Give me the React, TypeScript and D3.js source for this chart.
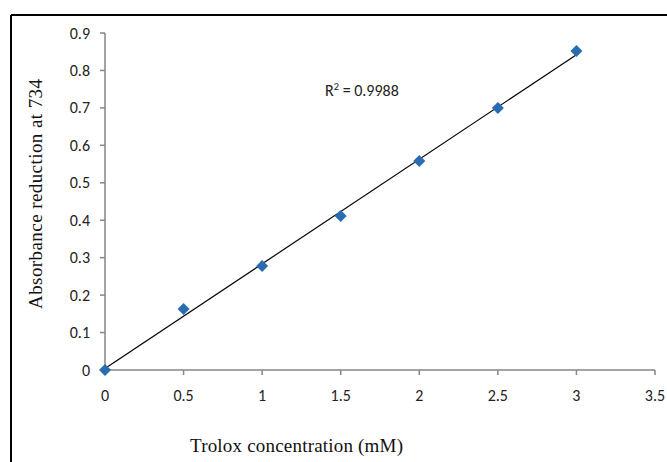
import React from "react";
import * as d3 from "d3";

const concentrations = [0, 0.5, 1, 1.5, 2, 2.5, 3];
const absorbance = [0, 0.163, 0.278, 0.411, 0.558, 0.7, 0.852];
const xTicks = [0, 0.5, 1, 1.5, 2, 2.5, 3, 3.5];
const yTicks = [0, 0.1, 0.2, 0.3, 0.4, 0.5, 0.6, 0.7, 0.8, 0.9];
const r2Label = "0.9988";
const xTitle = "Trolox concentration (mM)";
const yTitle = "Absorbance reduction at 734";

export default function App() {
  const W = 667, H = 462;
  const x = d3.scaleLinear().domain([0, 3.5]).range([105, 655]);
  const y = d3.scaleLinear().domain([0, 0.9]).range([370, 33]);
  const n = concentrations.length;
  const mx = d3.mean(concentrations)!;
  const my = d3.mean(absorbance)!;
  let sxy = 0, sxx = 0;
  for (let i = 0; i < n; i++) {
    sxy += (concentrations[i] - mx) * (absorbance[i] - my);
    sxx += (concentrations[i] - mx) ** 2;
  }
  const slope = sxy / sxx;
  const icpt = my - slope * mx;
  const x0 = d3.min(concentrations)!, x1 = d3.max(concentrations)!;
  const line = d3.line<number>().x((v) => x(v)).y((v) => y(icpt + slope * v));
  const diamond = d3.symbol().type(d3.symbolDiamond2).size(92)()!;
  const tickFont = "Carlito, Lato, 'Open Sans', sans-serif";
  const serif = "'Liberation Serif', 'Times New Roman', serif";
  const axisColor = "#868686";
  return (
    <svg width={W} height={H} style={{ position: "absolute", left: 0, top: 0 }}>
      <rect width={W} height={H} fill="#fff" />
      <line x1={11} y1={15} x2={W} y2={15} stroke="#000" strokeWidth={2} />
      <line x1={11} y1={15} x2={11} y2={H} stroke="#000" strokeWidth={2} />
      {/* y axis */}
      <line x1={x(0)} y1={y(0)} x2={x(0)} y2={y(0.9)} stroke={axisColor} strokeWidth={1.5} />
      {yTicks.map((t) => (
        <g key={"y" + t}>
          <line x1={x(0) - 5} x2={x(0)} y1={y(t)} y2={y(t)} stroke={axisColor} strokeWidth={1.5} />
          <text x={x(0) - 15} y={y(t)} dy="0.35em" textAnchor="end" fontFamily={tickFont} fontSize={16} fill="#222">
            {t === 0 ? "0" : d3.format(".1f")(t)}
          </text>
        </g>
      ))}
      {/* x axis */}
      <line x1={x(0)} y1={y(0)} x2={x(3.5)} y2={y(0)} stroke={axisColor} strokeWidth={1.5} />
      {xTicks.map((t) => (
        <g key={"x" + t}>
          <line x1={x(t)} x2={x(t)} y1={y(0)} y2={y(0) + 5} stroke={axisColor} strokeWidth={1.5} />
          <text x={x(t)} y={y(0) + 25} dy="0.35em" textAnchor="middle" fontFamily={tickFont} fontSize={16} fill="#222">
            {String(t)}
          </text>
        </g>
      ))}
      {/* trendline */}
      <path d={line([x0, x1])!} stroke="#000" strokeWidth={1.2} fill="none" />
      {/* points */}
      {concentrations.map((c, i) => (
        <path key={"p" + i} d={diamond} transform={`translate(${x(c)},${y(absorbance[i])})`} fill="#2a6cb0" />
      ))}
      <text x={325} y={96} fontFamily={tickFont} fontSize={16} fill="#222">
        R<tspan dy="-6" fontSize={10.5}>2</tspan><tspan dy="6"> = {r2Label}</tspan>
      </text>
      <text x={296.5} y={452} textAnchor="middle" fontFamily={serif} fontSize={19} textLength={213} lengthAdjust="spacing" fill="#111">
        {xTitle}
      </text>
      <text transform={`translate(42,194) rotate(-90)`} textAnchor="middle" fontFamily={serif} fontSize={19} textLength={230} lengthAdjust="spacing" fill="#111">
        {yTitle}
      </text>
    </svg>
  );
}
